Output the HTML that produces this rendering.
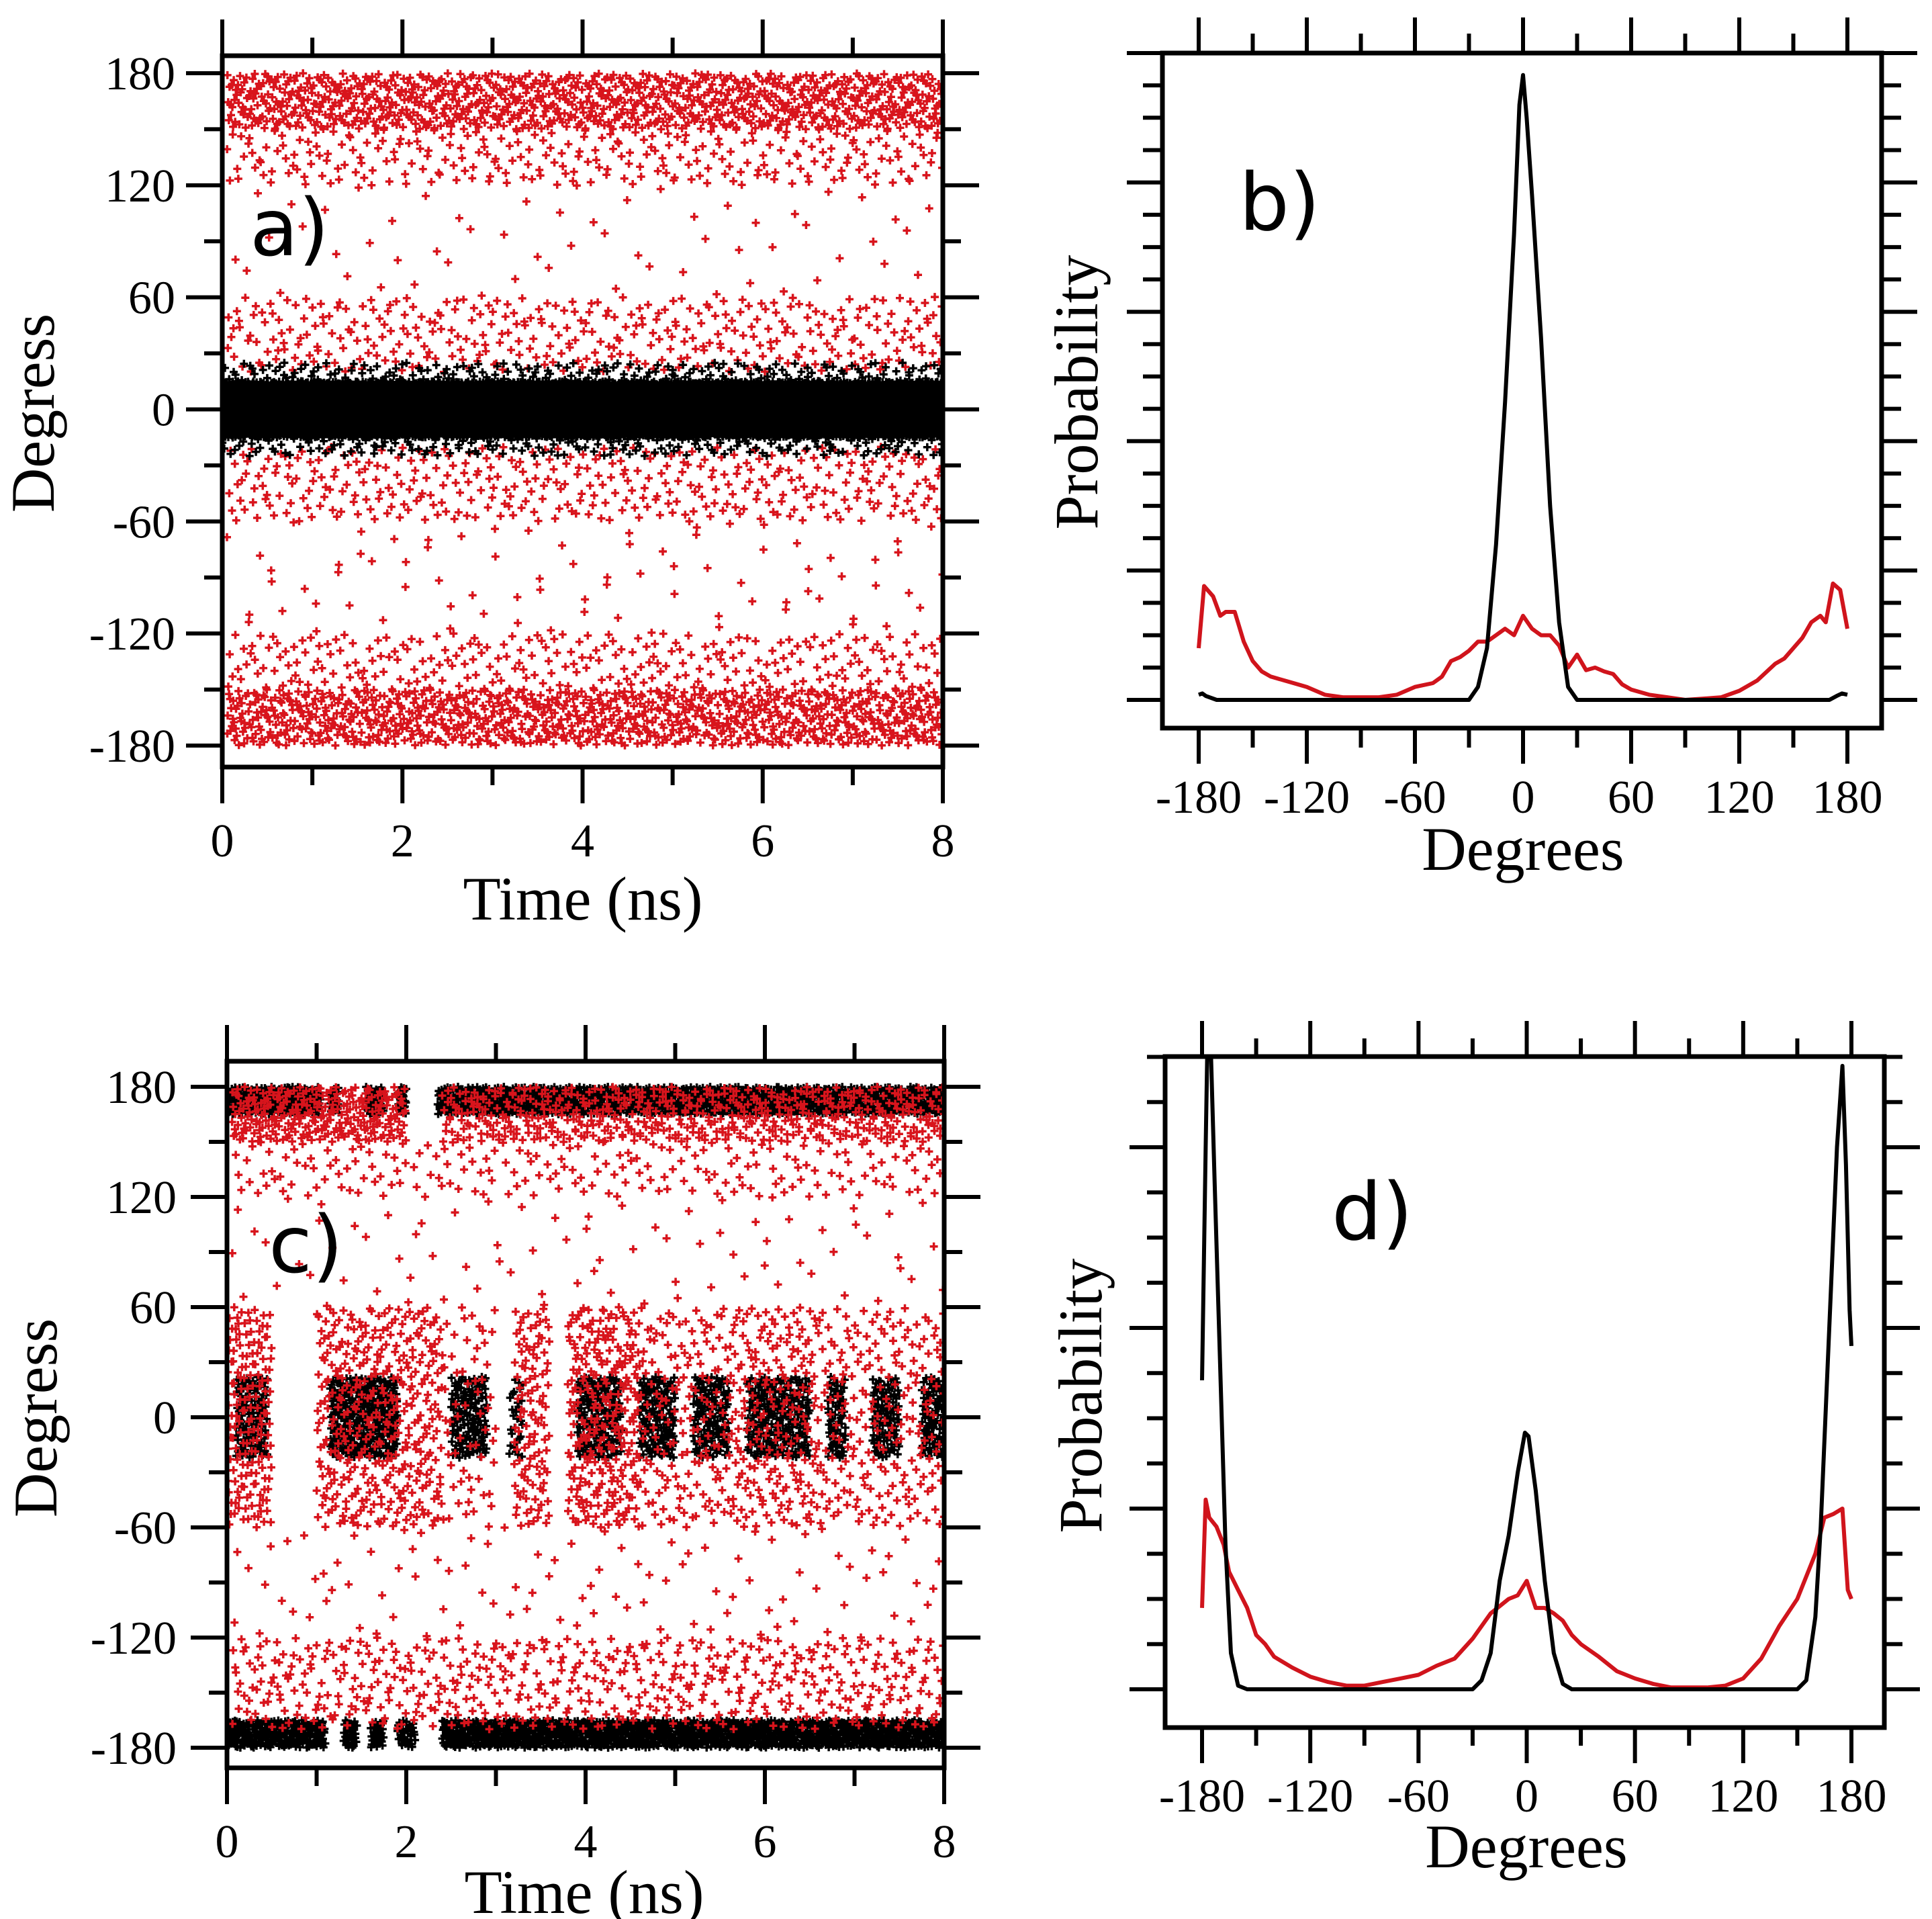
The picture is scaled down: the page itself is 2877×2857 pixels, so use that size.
<!DOCTYPE html>
<html><head><meta charset="utf-8"><style>
html,body{margin:0;padding:0;background:#fff}
svg{display:block}
text{font-family:"Liberation Serif",serif;fill:#000}
.pl{font-family:"DejaVu Sans","Liberation Sans",sans-serif}
</style></head><body>
<svg id="fig" width="2877" height="2857" viewBox="0 0 2877 2857" xmlns="http://www.w3.org/2000/svg">
<defs>
<clipPath id="clipA"><rect x="334" y="86" width="1067" height="1053"/></clipPath>
<clipPath id="clipC"><rect x="341" y="1583" width="1062" height="1046"/></clipPath>
<clipPath id="clipB"><rect x="1734" y="50" width="1065" height="1031"/></clipPath>
<clipPath id="clipD"><rect x="1738" y="1576" width="1065" height="993"/></clipPath>
</defs>
<g id="panelA"></g>
<g id="panelB"></g>
<g id="panelC"></g>
<g id="panelD"></g>
<text class="pl" x="372" y="380" font-size="118">a)</text>
<text class="pl" x="1845" y="342" font-size="118">b)</text>
<text class="pl" x="400" y="1894" font-size="118">c)</text>
<text class="pl" x="1983" y="1845" font-size="118">d)</text>
<text x="868" y="1369" font-size="92" text-anchor="middle">Time (ns)</text>
<text x="870" y="2848" font-size="92" text-anchor="middle">Time (ns)</text>
<text x="2268" y="1295" font-size="92" text-anchor="middle">Degrees</text>
<text x="2273" y="2780" font-size="92" text-anchor="middle">Degrees</text>
<text transform="translate(80,615) rotate(-90)" font-size="92" text-anchor="middle">Degress</text>
<text transform="translate(84,2111) rotate(-90)" font-size="92" text-anchor="middle">Degress</text>
<text transform="translate(1634,584) rotate(-90)" font-size="92" text-anchor="middle">Probability</text>
<text transform="translate(1640,2078) rotate(-90)" font-size="92" text-anchor="middle">Probability</text>
</svg>
<script>
// ---------- data ----------
const timeTicks = [0,2,4,6,8];
const timeMinorTicks = [1,3,5,7];
const angleTicks = [180,120,60,0,-60,-120,-180];
const angleMinorTicks = [150,90,30,-30,-90,-150];
const degTicks = [-180,-120,-60,0,60,120,180];
const degMinorTicks = [-150,-90,-30,30,90,150];

// scatter regions: [tStart, tEnd, angleLow, angleHigh, count]
const aRedRegions = [[0.05,8,150,180,950],[0.05,8,120,150,260],[0.05,8,60,120,60],[0.05,8,20,60,360],[0.05,8,-60,-20,360],[0.05,8,-120,-60,80],[0.05,8,-150,-120,260],[0.05,8,-180,-150,950]];
const aBlackRegions = [[0,8,-15,15,6500],[0,8,-25,25,900]];
const cBlackRegions = [[0,1.05,165,180,230],[1.15,1.25,165,180,22],[1.55,1.75,165,180,45],[1.9,2.0,165,180,22],[2.35,8,165,180,1300],
 [0,1.1,-180,-165,230],[1.3,1.45,-180,-165,28],[1.6,1.75,-180,-165,28],[1.9,2.1,-180,-165,33],[2.4,8,-180,-165,1250],
 [0.1,0.45,-22,22,120],[1.15,1.9,-22,22,300],[2.5,2.9,-22,22,140],[3.15,3.3,-22,22,28],[3.9,4.4,-22,22,180],[4.6,5.0,-22,22,140],[5.2,5.6,-22,22,135],[5.8,6.5,-22,22,230],[6.7,6.9,-22,22,65],[7.2,7.5,-22,22,100],[7.75,8,-22,22,80]];
const cRedRegions = [[0.05,2.0,150,180,260],[2.4,8,150,180,520],[0.05,8,120,150,200],[0.05,8,60,120,80],[0,0.5,-60,60,160],[1.0,2.4,-60,60,360],[2.4,3.0,-60,60,60],[3.2,3.6,-60,60,110],[3.8,4.6,-60,60,260],[4.6,5.6,-60,60,150],[5.6,6.6,-60,60,200],[6.6,8,-60,60,200],[0.05,8,-120,-60,100],[0.05,8,-170,-120,520]];

// distributions (probability in major-tick units)
const bDeg = [-180,-178,-176,-170,-165,-160,-150,-40,-30,-25,-20,-15,-10,-5,-2,0,2,5,10,15,20,25,30,40,160,170,174,177,180];
const bBlack = [0.04,0.05,0.03,0,0,0,0,0,0,0.1,0.4,1.2,2.3,3.6,4.6,4.83,4.5,3.9,2.8,1.5,0.6,0.1,0,0,0,0,0.03,0.05,0.04];
const bRedDeg = [-180,-177,-172,-168,-165,-160,-155,-150,-145,-140,-130,-120,-110,-100,-90,-80,-70,-60,-50,-45,-40,-35,-30,-25,-20,-15,-10,-5,0,5,10,15,20,25,30,35,40,45,50,55,60,70,80,90,100,110,120,130,140,145,150,155,160,165,168,172,176,180];
const bRed = [0.4,0.88,0.8,0.65,0.68,0.68,0.45,0.3,0.22,0.18,0.14,0.1,0.04,0.02,0.02,0.02,0.04,0.1,0.13,0.18,0.3,0.33,0.38,0.45,0.45,0.5,0.55,0.5,0.65,0.55,0.5,0.5,0.42,0.25,0.35,0.23,0.25,0.22,0.2,0.12,0.08,0.04,0.02,0,0.01,0.02,0.07,0.15,0.28,0.32,0.4,0.48,0.6,0.65,0.6,0.9,0.85,0.55];
const dDeg = [-180,-178,-177,-175,-173,-170,-167,-164,-160,-155,-30,-25,-20,-15,-10,-5,-1,1,5,10,15,20,25,150,155,160,163,166,169,172,175,177,179,180];
const dBlack = [1.71,3.0,3.6,3.5,2.8,1.8,0.8,0.2,0.02,0,0,0.05,0.2,0.6,0.85,1.2,1.42,1.4,1.1,0.6,0.2,0.03,0,0,0.05,0.4,0.9,1.6,2.3,3.0,3.45,2.9,2.1,1.9];
const dRedDeg = [-180,-178,-176,-172,-168,-165,-160,-155,-150,-145,-140,-130,-120,-110,-100,-90,-80,-70,-60,-50,-40,-30,-20,-10,-5,0,5,10,15,20,25,30,40,50,60,70,80,90,100,110,120,130,140,150,160,165,170,175,178,180];
const dRed = [0.45,1.05,0.95,0.9,0.8,0.65,0.55,0.45,0.3,0.25,0.18,0.12,0.07,0.04,0.02,0.02,0.04,0.06,0.08,0.13,0.17,0.28,0.42,0.5,0.52,0.6,0.45,0.45,0.42,0.38,0.3,0.25,0.18,0.1,0.06,0.03,0.01,0.01,0.01,0.02,0.06,0.17,0.35,0.5,0.75,0.95,0.97,1.0,0.55,0.5];

// ---------- drawing ----------
const NS = "http://www.w3.org/2000/svg";
function el(tag, attrs, parent){ const e=document.createElementNS(NS,tag); for(const k in attrs) e.setAttribute(k,attrs[k]); parent.appendChild(e); return e; }
function halton(i,b){ let f=1,r=0; while(i>0){ f/=b; r+=f*(i%b); i=Math.floor(i/b);} return r; }

function frameAndTicks(g, fr, xTicksMaj, xTicksMin, xScale, yTicksMaj, yTicksMin, yScale, L, xLab, yLab, xLabY, yLabX, prefix){
  let d="";
  xTicksMaj.forEach(v=>{const x=xScale(v); d+=`M${x} ${fr.y0-L.maj}V${fr.y0}M${x} ${fr.y1}V${fr.y1+L.maj}`;});
  xTicksMin.forEach(v=>{const x=xScale(v); d+=`M${x} ${fr.y0-L.min}V${fr.y0}M${x} ${fr.y1}V${fr.y1+L.min}`;});
  yTicksMaj.forEach(v=>{const y=yScale(v); d+=`M${fr.x0-L.maj} ${y}H${fr.x0}M${fr.x1} ${y}H${fr.x1+L.maj}`;});
  yTicksMin.forEach(v=>{const y=yScale(v); d+=`M${fr.x0-L.min} ${y}H${fr.x0}M${fr.x1} ${y}H${fr.x1+L.min}`;});
  const t=el("path",{d:d,stroke:"#000","stroke-width":6,fill:"none"},g);
  
  
  const r=el("rect",{x:fr.x0,y:fr.y0,width:fr.x1-fr.x0,height:fr.y1-fr.y0,fill:"none",stroke:"#000","stroke-width":7},g);
  
  
  if(xLab) xTicksMaj.forEach(v=>{
    const tx=el("text",{x:xScale(v),y:xLabY,"font-size":70,"text-anchor":"middle"},g); tx.textContent=String(v);
    
    
  });
  if(yLab) yTicksMaj.forEach(v=>{
    const ty=el("text",{x:yLabX,y:yScale(v)+24,"font-size":70,"text-anchor":"end"},g); ty.textContent=String(v);
    
    
  });
}

function scatter(g, regions, xs, ys, color, clip, name, seed){
  let d="", idx=seed;
  regions.forEach(r=>{
    for(let i=0;i<r[4];i++){ idx++;
      const t=r[0]+(r[1]-r[0])*halton(idx,2), a=r[2]+(r[3]-r[2])*halton(idx,3);
      const x=xs(t), y=ys(a);
      d+=`M${(x-6).toFixed(1)} ${y.toFixed(1)}h12M${x.toFixed(1)} ${(y-6).toFixed(1)}v12`;
    }
  });
  const p=el("path",{d:d,stroke:color,"stroke-width":3.5,fill:"none","clip-path":`url(#${clip})`},g);
  
  
}

function line(g, xsArr, vals, xs, ys, color, clip, name){
  const d=xsArr.map((v,i)=>(i?"L":"M")+xs(v).toFixed(1)+" "+ys(vals[i]).toFixed(1)).join("");
  const p=el("path",{d:d,stroke:color,"stroke-width":6,fill:"none","stroke-linejoin":"round","clip-path":`url(#${clip})`},g);
  
  
}

// Panel A
(function(){
  const g=document.getElementById("panelA");
  const fr={x0:331,x1:1404,y0:83,y1:1142};
  const xs=t=>331+(1404-331)*t/8, ys=a=>109+(1110-109)*(180-a)/360;
  scatter(g,aRedRegions,xs,ys,"#d8141c","clipA","panel-a-red-series",1);
  scatter(g,aBlackRegions,xs,ys,"#000","clipA","panel-a-black-series",5000);
  frameAndTicks(g,fr,timeTicks,timeMinorTicks,xs,angleTicks,angleMinorTicks,ys,{maj:54,min:27},true,true,1275,261,"panel-a");
})();
// Panel C
(function(){
  const g=document.getElementById("panelC");
  const fr={x0:338,x1:1406,y0:1580,y1:2632};
  const xs=t=>338+(1406-338)*t/8, ys=a=>1618+(2602-1618)*(180-a)/360;
  scatter(g,cBlackRegions,xs,ys,"#000","clipC","panel-c-black-series",40000);
  scatter(g,cRedRegions,xs,ys,"#d8141c","clipC","panel-c-red-series",20000);
  frameAndTicks(g,fr,timeTicks,timeMinorTicks,xs,angleTicks,angleMinorTicks,ys,{maj:54,min:27},true,true,2765,263,"panel-c");
})();
// Panel B
(function(){
  const g=document.getElementById("panelB");
  const fr={x0:1731,x1:2802,y0:79,y1:1084};
  const xs=v=>1785+(2751-1785)*(v+180)/360, ys=p=>1042-192.6*p;
  const yMaj=[0,1,2,3,4,5], yMin=[];
  for(let k=0;k<5;k++) for(let j=1;j<4;j++) yMin.push(k+j*0.25);
  line(g,bRedDeg,bRed,xs,ys,"#d0141c","clipB","panel-b-red-line");
  line(g,bDeg,bBlack,xs,ys,"#000","clipB","panel-b-black-line");
  frameAndTicks(g,fr,degTicks,degMinorTicks,xs,yMaj,yMin,ys,{maj:53,min:29},true,false,1210,0,"panel-b");
})();
// Panel D
(function(){
  const g=document.getElementById("panelD");
  const fr={x0:1735,x1:2806,y0:1573,y1:2572};
  const xs=v=>1790+(2757-1790)*(v+180)/360, ys=p=>2515-269*p;
  const yMaj=[0,1,2,3], yMin=[];
  for(let k=0;k<4;k++) for(let j=1;j<4;j++) if(k+j*0.25<=3.5) yMin.push(k+j*0.25);
  line(g,dRedDeg,dRed,xs,ys,"#d0141c","clipD","panel-d-red-line");
  line(g,dDeg,dBlack,xs,ys,"#000","clipD","panel-d-black-line");
  frameAndTicks(g,fr,degTicks,degMinorTicks,xs,yMaj,yMin,ys,{maj:53,min:27},true,false,2697,0,"panel-d");
})();
</script>
</body></html>
